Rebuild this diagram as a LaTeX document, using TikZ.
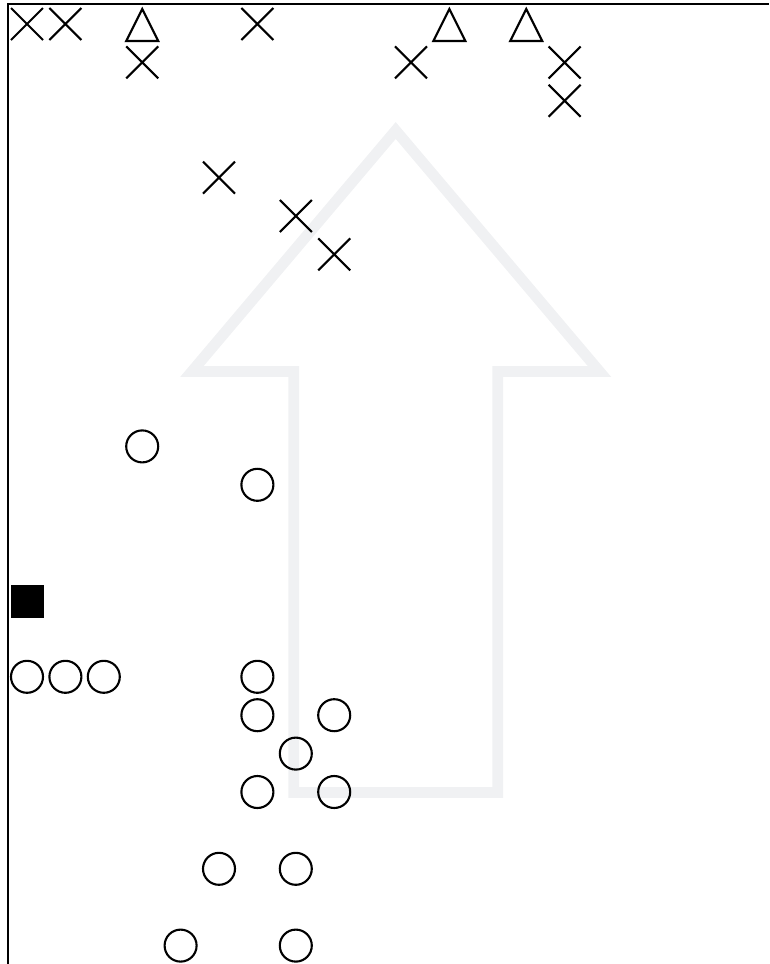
\documentclass[tikz,border=0pt]{standalone}
\usepackage{xcolor}
\usetikzlibrary{calc}
\definecolor{arrowgray}{RGB}{240,241,243}

\tikzset{
  mk/.style={line width=1.2pt,black},
  xmark/.pic={\draw[mk] (-16,-16) -- (16,16) (-16,16) -- (16,-16);},
  tmark/.pic={\draw[mk,line join=miter] (-16,17) -- (0,-15) -- (16,17) -- cycle;}
}

\begin{document}
\begin{tikzpicture}[x=0.02cm,y=-0.02cm]
  \useasboundingbox (0,0) rectangle (769,964);

  % Big arrow in the back
  \draw[arrowgray,line width=6.2pt,line join=miter]
    (293.7,792.5) -- (293.7,371.5) -- (191.9,371.5) -- (395.7,130.5)
    -- (599.5,371.5) -- (497.7,371.5) -- (497.7,792.5) -- cycle;

  % Frame
  \draw[line width=1.4pt] (8,964) -- (8,4) -- (769,4);

  % Crosses
  \foreach \c/\r in {0/0,1/0,6/0,3/1,10/1,14/1,14/2,5/4,7/5,8/6}
    \pic at ({27+38.4*\c},{24+38.4*\r}) {xmark};

  % Triangles
  \foreach \c/\r in {3/0,11/0,13/0}
    \pic at ({27+38.4*\c},{24+38.4*\r}) {tmark};

  % Circles
  \foreach \c/\r in {3/11,6/12,0/17,1/17,2/17,6/17,6/18,8/18,7/19,6/20,8/20,5/22,7/22,4/24,7/24}
    \draw[mk] ({27+38.4*\c},{24+38.4*\r}) circle (16);

  % Filled square
  \fill (10.5,584.5) rectangle (43.5,617.5);
\end{tikzpicture}
\end{document}
